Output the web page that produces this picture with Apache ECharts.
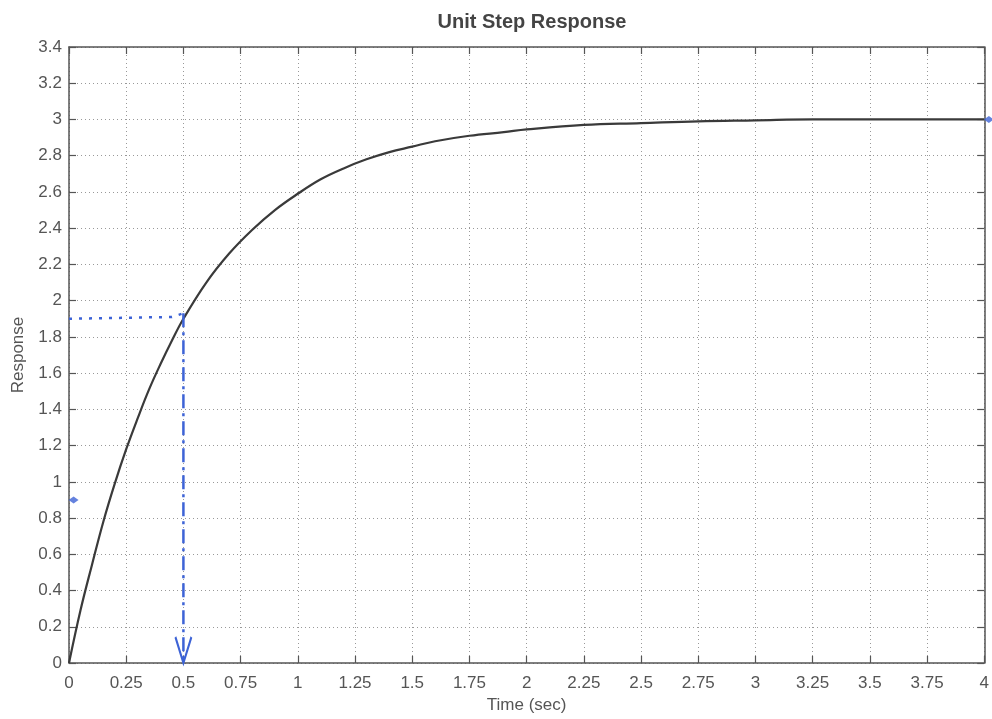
<!DOCTYPE html>
<html>
<head>
<meta charset="utf-8">
<script src="https://cdn.jsdelivr.net/npm/echarts@6/dist/echarts.min.js"></script>
<style>
  html, body { margin: 0; padding: 0; background: #fff; }
  #chart { width: 992px; height: 719px; }
</style>
</head>
<body>
<div id="chart"></div>
<script>
// step response
const timeSec = [0, 0.05, 0.1, 0.15, 0.2, 0.25, 0.3, 0.35, 0.4, 0.45, 0.5, 0.6, 0.7, 0.8, 0.9, 1.0, 1.1, 1.2, 1.3, 1.4, 1.5, 1.6, 1.75, 1.9, 2, 2.25, 2.5, 2.75, 3, 3.25, 3.5, 3.75, 4];
const response = [0, 0.29, 0.54, 0.78, 0.99, 1.18, 1.35, 1.51, 1.65, 1.78, 1.9, 2.1, 2.26, 2.39, 2.5, 2.59, 2.67, 2.73, 2.78, 2.82, 2.85, 2.88, 2.91, 2.93, 2.945, 2.97, 2.98, 2.99, 2.995, 3.0, 3.0, 3.0, 3.0];

// hand-drawn blue marks
const hGuideX = [0, 0.45, 0.5];
const hGuideY = [1.9, 1.91, 1.93];
const vGuideX = [0.5, 0.5];
const vGuideY = [1.93, 0];
const dotMarks = [[0.02, 0.9], [4.02, 3.0]];

const ink = '#3d63d6';
const font = 'Liberation Sans';
const boxLine = { onZero: false, lineStyle: { color: '#555', width: 1.5 } };
const tick = { show: true, inside: true, length: 7, lineStyle: { color: '#555', width: 1.2 } };

const chart = echarts.init(document.getElementById('chart'));
const option = {
  animation: false,
  title: {
    text: 'Unit Step Response',
    left: 527,
    textAlign: 'center',
    top: 7,
    textStyle: { fontFamily: font, fontSize: 20, fontWeight: 'bold', color: '#444' },
  },
  grid: { left: 69, right: 5, top: 47, bottom: 51 },
  xAxis: [
    {
      type: 'value',
      min: 0,
      max: 4,
      interval: 0.25,
      name: 'Time (sec)',
      nameLocation: 'middle',
      nameGap: 34,
      nameTextStyle: { fontFamily: font, fontSize: 17, color: '#555' },
      axisLine: { show: true, ...boxLine },
      axisTick: tick,
      axisLabel: { fontFamily: font, fontSize: 17, color: '#555', margin: 12 },
      splitLine: { lineStyle: { type: [1, 3], color: '#999' } },
    },
    {
      type: 'value',
      position: 'top',
      min: 0,
      max: 4,
      interval: 0.25,
      axisLine: { show: true, ...boxLine },
      axisTick: tick,
      axisLabel: { show: false },
      splitLine: { show: false },
    },
  ],
  yAxis: [
    {
      type: 'value',
      min: 0,
      max: 3.4,
      interval: 0.2,
      name: 'Response',
      nameLocation: 'middle',
      nameGap: 42,
      nameRotate: 90,
      nameTextStyle: { fontFamily: font, fontSize: 17, color: '#555' },
      axisLine: { show: true, ...boxLine },
      axisTick: tick,
      axisLabel: {
        fontFamily: font, fontSize: 17, color: '#555', margin: 7,
        formatter: v => String(+v.toFixed(1)),
      },
      splitLine: { lineStyle: { type: [1, 3], color: '#999' } },
    },
    {
      type: 'value',
      position: 'right',
      min: 0,
      max: 3.4,
      interval: 0.2,
      axisLine: { show: true, ...boxLine },
      axisTick: tick,
      axisLabel: { show: false },
      splitLine: { show: false },
    },
  ],
  series: [
    {
      name: 'response',
      type: 'line',
      smooth: 0.4,
      symbol: 'none',
      data: timeSec.map((t, i) => [t, response[i]]),
      lineStyle: { color: '#3a3a3a', width: 2.2 },
      z: 3,
    },
    {
      name: 'hguide',
      type: 'line',
      symbol: 'none',
      data: hGuideX.map((t, i) => [t, hGuideY[i]]),
      lineStyle: { color: ink, width: 2.5, type: [3, 7] },
      z: 4,
    },
    {
      name: 'vguide',
      type: 'line',
      data: vGuideX.map((t, i) => [t, vGuideY[i]]),
      symbol: (v, p) => (p.dataIndex === 1 ? 'path://M0,0 L10,24 L20,0' : 'none'),
      symbolSize: [16, 26],
      symbolOffset: [0, -13],
      itemStyle: { color: 'rgba(0,0,0,0)', borderColor: ink, borderWidth: 2.5 },
      lineStyle: { color: ink, width: 2.5, type: [14, 5, 3, 5] },
      z: 4,
    },
    {
      name: 'dots',
      type: 'scatter',
      symbol: 'diamond',
      symbolSize: [10, 7],
      clip: false,
      data: dotMarks,
      itemStyle: { color: ink },
      z: 5,
    },
  ],
};
chart.setOption(option);
</script>
</body>
</html>
